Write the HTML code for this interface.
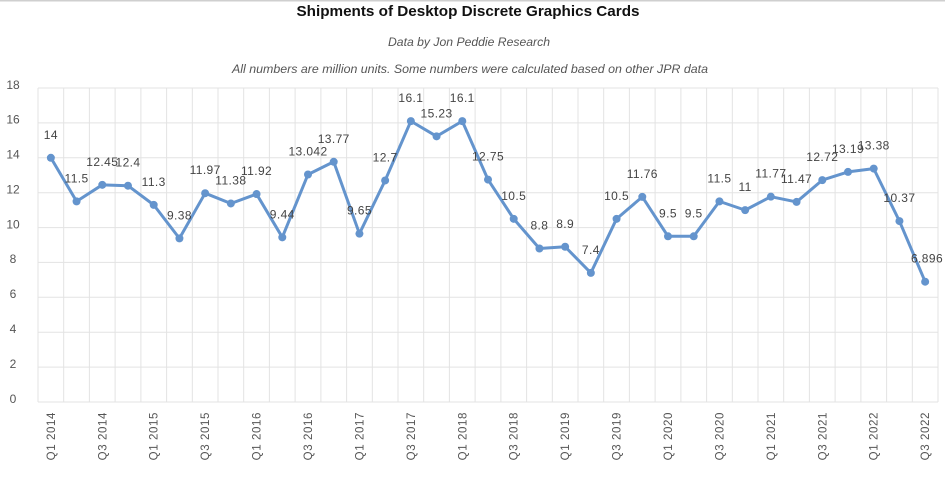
<!DOCTYPE html>
<html><head><meta charset="utf-8"><style>
html,body{margin:0;padding:0;background:#fff;}
svg{display:block;}
</style></head><body>
<svg width="945" height="489" viewBox="0 0 945 489" xmlns="http://www.w3.org/2000/svg" font-family="Liberation Sans, Arial, sans-serif">
<rect width="945" height="489" fill="#fff"/>
<line x1="0" y1="0.5" x2="945" y2="0.5" stroke="#cfcfcf" stroke-width="2"/>
<text x="468" y="16" text-anchor="middle" font-size="15" font-weight="bold" fill="#111" textLength="343" lengthAdjust="spacingAndGlyphs">Shipments of Desktop Discrete Graphics Cards</text>
<text x="469" y="46" text-anchor="middle" font-size="11.5" font-style="italic" fill="#555" textLength="162" lengthAdjust="spacingAndGlyphs">Data by Jon Peddie Research</text>
<text x="470" y="73" text-anchor="middle" font-size="11.5" font-style="italic" fill="#555" textLength="476" lengthAdjust="spacingAndGlyphs">All numbers are million units. Some numbers were calculated based on other JPR data</text>
<g stroke="#e3e3e3" stroke-width="1">
<line x1="38" y1="402" x2="938" y2="402"/>
<line x1="38" y1="367.1" x2="938" y2="367.1"/>
<line x1="38" y1="332.2" x2="938" y2="332.2"/>
<line x1="38" y1="297.3" x2="938" y2="297.3"/>
<line x1="38" y1="262.4" x2="938" y2="262.4"/>
<line x1="38" y1="227.6" x2="938" y2="227.6"/>
<line x1="38" y1="192.7" x2="938" y2="192.7"/>
<line x1="38" y1="157.8" x2="938" y2="157.8"/>
<line x1="38" y1="122.9" x2="938" y2="122.9"/>
<line x1="38" y1="88" x2="938" y2="88"/>
<line x1="38" y1="88" x2="38" y2="402"/>
<line x1="63.7" y1="88" x2="63.7" y2="402"/>
<line x1="89.4" y1="88" x2="89.4" y2="402"/>
<line x1="115.1" y1="88" x2="115.1" y2="402"/>
<line x1="140.9" y1="88" x2="140.9" y2="402"/>
<line x1="166.6" y1="88" x2="166.6" y2="402"/>
<line x1="192.3" y1="88" x2="192.3" y2="402"/>
<line x1="218" y1="88" x2="218" y2="402"/>
<line x1="243.7" y1="88" x2="243.7" y2="402"/>
<line x1="269.4" y1="88" x2="269.4" y2="402"/>
<line x1="295.1" y1="88" x2="295.1" y2="402"/>
<line x1="320.9" y1="88" x2="320.9" y2="402"/>
<line x1="346.6" y1="88" x2="346.6" y2="402"/>
<line x1="372.3" y1="88" x2="372.3" y2="402"/>
<line x1="398" y1="88" x2="398" y2="402"/>
<line x1="423.7" y1="88" x2="423.7" y2="402"/>
<line x1="449.4" y1="88" x2="449.4" y2="402"/>
<line x1="475.1" y1="88" x2="475.1" y2="402"/>
<line x1="500.9" y1="88" x2="500.9" y2="402"/>
<line x1="526.6" y1="88" x2="526.6" y2="402"/>
<line x1="552.3" y1="88" x2="552.3" y2="402"/>
<line x1="578" y1="88" x2="578" y2="402"/>
<line x1="603.7" y1="88" x2="603.7" y2="402"/>
<line x1="629.4" y1="88" x2="629.4" y2="402"/>
<line x1="655.1" y1="88" x2="655.1" y2="402"/>
<line x1="680.9" y1="88" x2="680.9" y2="402"/>
<line x1="706.6" y1="88" x2="706.6" y2="402"/>
<line x1="732.3" y1="88" x2="732.3" y2="402"/>
<line x1="758" y1="88" x2="758" y2="402"/>
<line x1="783.7" y1="88" x2="783.7" y2="402"/>
<line x1="809.4" y1="88" x2="809.4" y2="402"/>
<line x1="835.1" y1="88" x2="835.1" y2="402"/>
<line x1="860.9" y1="88" x2="860.9" y2="402"/>
<line x1="886.6" y1="88" x2="886.6" y2="402"/>
<line x1="912.3" y1="88" x2="912.3" y2="402"/>
<line x1="938" y1="88" x2="938" y2="402"/>
</g>
<g font-size="12" fill="#555" text-anchor="middle">
<text x="13" y="403">0</text>
<text x="13" y="368">2</text>
<text x="13" y="333">4</text>
<text x="13" y="298">6</text>
<text x="13" y="263">8</text>
<text x="13" y="228.5">10</text>
<text x="13" y="193.5">12</text>
<text x="13" y="158.5">14</text>
<text x="13" y="123.5">16</text>
<text x="13" y="89">18</text>
</g>
<g font-size="11.5" fill="#555" text-anchor="end" letter-spacing="0.6">
<text transform="translate(54.9,412) rotate(-90)">Q1 2014</text>
<text transform="translate(106.3,412) rotate(-90)">Q3 2014</text>
<text transform="translate(157.7,412) rotate(-90)">Q1 2015</text>
<text transform="translate(209.1,412) rotate(-90)">Q3 2015</text>
<text transform="translate(260.6,412) rotate(-90)">Q1 2016</text>
<text transform="translate(312,412) rotate(-90)">Q3 2016</text>
<text transform="translate(363.4,412) rotate(-90)">Q1 2017</text>
<text transform="translate(414.9,412) rotate(-90)">Q3 2017</text>
<text transform="translate(466.3,412) rotate(-90)">Q1 2018</text>
<text transform="translate(517.7,412) rotate(-90)">Q3 2018</text>
<text transform="translate(569.1,412) rotate(-90)">Q1 2019</text>
<text transform="translate(620.6,412) rotate(-90)">Q3 2019</text>
<text transform="translate(672,412) rotate(-90)">Q1 2020</text>
<text transform="translate(723.4,412) rotate(-90)">Q3 2020</text>
<text transform="translate(774.9,412) rotate(-90)">Q1 2021</text>
<text transform="translate(826.3,412) rotate(-90)">Q3 2021</text>
<text transform="translate(877.7,412) rotate(-90)">Q1 2022</text>
<text transform="translate(929.1,412) rotate(-90)">Q3 2022</text>
</g>
<polyline fill="none" stroke="#6494cd" stroke-width="3" stroke-linejoin="round" points="50.86,157.78 76.57,201.39 102.29,184.82 128,185.69 153.71,204.88 179.43,238.37 205.14,193.19 230.86,203.48 256.57,194.06 282.29,237.32 308,174.49 333.71,161.78 359.43,233.66 385.14,180.46 410.86,121.14 436.57,136.32 462.29,121.14 488,179.59 513.71,218.83 539.43,248.49 565.14,246.75 590.86,272.91 616.57,218.83 642.29,196.86 668,236.28 693.71,236.28 719.43,201.39 745.14,210.11 770.86,196.68 796.57,201.92 822.29,180.11 848,171.91 873.71,168.6 899.43,221.1 925.14,281.7"/>
<g fill="#6494cd">
<circle cx="50.86" cy="157.78" r="4"/>
<circle cx="76.57" cy="201.39" r="4"/>
<circle cx="102.29" cy="184.82" r="4"/>
<circle cx="128" cy="185.69" r="4"/>
<circle cx="153.71" cy="204.88" r="4"/>
<circle cx="179.43" cy="238.37" r="4"/>
<circle cx="205.14" cy="193.19" r="4"/>
<circle cx="230.86" cy="203.48" r="4"/>
<circle cx="256.57" cy="194.06" r="4"/>
<circle cx="282.29" cy="237.32" r="4"/>
<circle cx="308" cy="174.49" r="4"/>
<circle cx="333.71" cy="161.78" r="4"/>
<circle cx="359.43" cy="233.66" r="4"/>
<circle cx="385.14" cy="180.46" r="4"/>
<circle cx="410.86" cy="121.14" r="4"/>
<circle cx="436.57" cy="136.32" r="4"/>
<circle cx="462.29" cy="121.14" r="4"/>
<circle cx="488" cy="179.59" r="4"/>
<circle cx="513.71" cy="218.83" r="4"/>
<circle cx="539.43" cy="248.49" r="4"/>
<circle cx="565.14" cy="246.75" r="4"/>
<circle cx="590.86" cy="272.91" r="4"/>
<circle cx="616.57" cy="218.83" r="4"/>
<circle cx="642.29" cy="196.86" r="4"/>
<circle cx="668" cy="236.28" r="4"/>
<circle cx="693.71" cy="236.28" r="4"/>
<circle cx="719.43" cy="201.39" r="4"/>
<circle cx="745.14" cy="210.11" r="4"/>
<circle cx="770.86" cy="196.68" r="4"/>
<circle cx="796.57" cy="201.92" r="4"/>
<circle cx="822.29" cy="180.11" r="4"/>
<circle cx="848" cy="171.91" r="4"/>
<circle cx="873.71" cy="168.6" r="4"/>
<circle cx="899.43" cy="221.1" r="4"/>
<circle cx="925.14" cy="281.7" r="4"/>
</g>
<g font-size="12" fill="#444" text-anchor="middle" letter-spacing="0.4">
<text x="50.86" y="138.8">14</text>
<text x="76.57" y="182.4">11.5</text>
<text x="102.29" y="165.8">12.45</text>
<text x="128" y="166.7">12.4</text>
<text x="153.71" y="185.9">11.3</text>
<text x="179.43" y="219.4">9.38</text>
<text x="205.14" y="174.2">11.97</text>
<text x="230.86" y="184.5">11.38</text>
<text x="256.57" y="175.1">11.92</text>
<text x="282.29" y="218.3">9.44</text>
<text x="308" y="155.5">13.042</text>
<text x="333.71" y="142.8">13.77</text>
<text x="359.43" y="214.7">9.65</text>
<text x="385.14" y="161.5">12.7</text>
<text x="410.86" y="102.1">16.1</text>
<text x="436.57" y="117.3">15.23</text>
<text x="462.29" y="102.1">16.1</text>
<text x="488" y="160.6">12.75</text>
<text x="513.71" y="199.8">10.5</text>
<text x="539.43" y="229.5">8.8</text>
<text x="565.14" y="227.8">8.9</text>
<text x="590.86" y="253.9">7.4</text>
<text x="616.57" y="199.8">10.5</text>
<text x="642.29" y="177.9">11.76</text>
<text x="668" y="217.3">9.5</text>
<text x="693.71" y="217.3">9.5</text>
<text x="719.43" y="182.4">11.5</text>
<text x="745.14" y="191.1">11</text>
<text x="770.86" y="177.7">11.77</text>
<text x="796.57" y="182.9">11.47</text>
<text x="822.29" y="161.1">12.72</text>
<text x="848" y="152.9">13.19</text>
<text x="873.71" y="149.6">13.38</text>
<text x="899.43" y="202.1">10.37</text>
<text x="927" y="262.7">6.896</text>
</g>
</svg>
</body></html>
